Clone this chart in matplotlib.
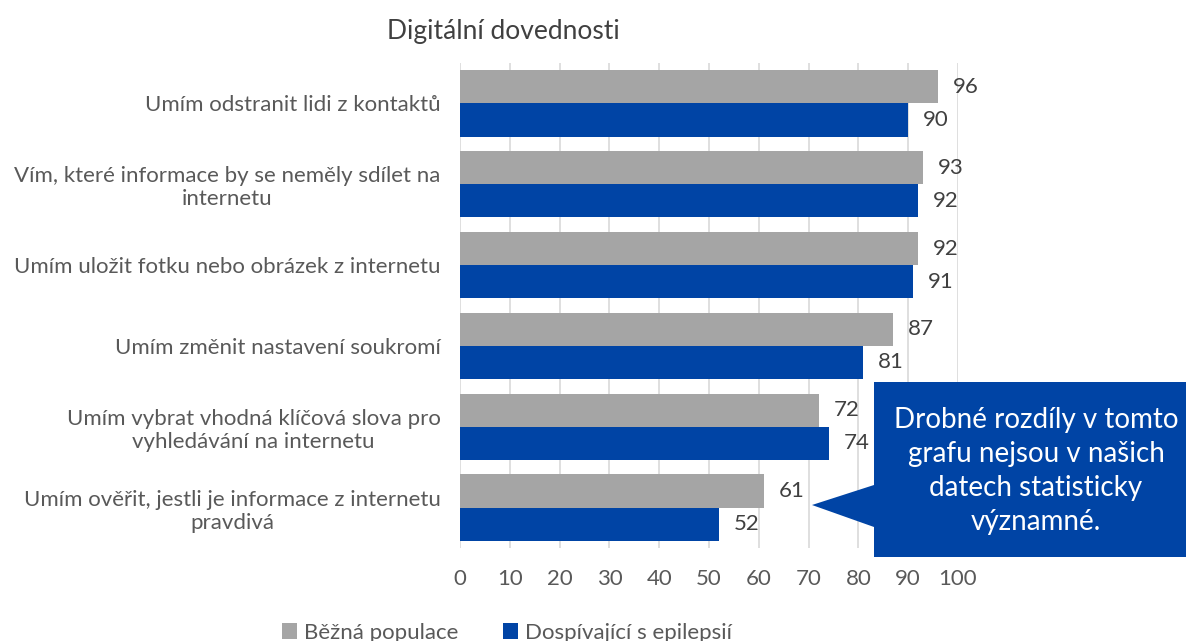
import matplotlib.pyplot as plt
from matplotlib.patches import Polygon
import numpy as np

plt.rcParams['font.family'] = ['Lato', 'DejaVu Sans']

title = 'Digitální dovednosti'
categories = [
    'Umím odstranit lidi z kontaktů',
    'Vím, které informace by se neměly sdílet na\ninternetu',
    'Umím uložit fotku nebo obrázek z internetu',
    'Umím změnit nastavení soukromí',
    'Umím vybrat vhodná klíčová slova pro\nvyhledávání na internetu',
    'Umím ověřit, jestli je informace z internetu\npravdivá',
]
bezna = [96, 93, 92, 87, 72, 61]
epilepsie = [90, 92, 91, 81, 74, 52]
series_names = ['Běžná populace', 'Dospívající s epilepsií']
note = 'Drobné rozdíly v tomto\ngrafu nejsou v našich\ndatech statisticky\nvýznamné.'

gray = '#a5a5a5'
blue = '#0044a5'

W, H = 1186, 641
fig = plt.figure(figsize=(W / 100, H / 100), dpi=100)
ax = fig.add_axes([460 / W, 1 - 548 / H, 498 / W, 485 / H])

y = np.arange(len(categories))
h = 0.41
b1 = ax.barh(y - h / 2, bezna, height=h, color=gray, label=series_names[0], zorder=3)
b2 = ax.barh(y + h / 2, epilepsie, height=h, color=blue, label=series_names[1], zorder=3)

for bars, vals in ((b1, bezna), (b2, epilepsie)):
    for bar, v in zip(bars, vals):
        ax.text(v + 3, bar.get_y() + bar.get_height() / 2, str(v),
                va='center', ha='left', fontsize=16, color='#404040', zorder=4)

ax.set_xlim(0, 100)
ax.set_ylim(len(categories) - 0.5, -0.5)
ax.set_xticks(range(0, 101, 10))
ax.set_yticks(y)
ax.set_yticklabels(categories, multialignment='center')
ax.tick_params(axis='y', length=0, pad=14, labelsize=16, labelcolor='#595959')
ax.tick_params(axis='x', length=0, pad=15, labelsize=16, labelcolor='#595959')
ax.grid(axis='x', color='#d9d9d9', linewidth=1.2, zorder=0)
for s in ax.spines.values():
    s.set_visible(False)

fig.text(503 / W, 1 - 32 / H, title, ha='center', va='center',
         fontsize=19, color='#404040')

# callout box
pts = [(874, 382), (1186, 382), (1186, 557), (874, 557), (874, 527),
       (812, 505), (874, 485)]
poly = Polygon([(px / W, 1 - py / H) for px, py in pts], closed=True,
               transform=fig.transFigure, facecolor=blue, edgecolor='none', zorder=5)
fig.patches.append(poly)
fig.text(1036 / W, 1 - 471 / H, note, ha='center', va='center',
         fontsize=20, color='white', linespacing=1.37, zorder=6)

fig.legend(handles=[b1, b2], labels=series_names, loc='center',
           bbox_to_anchor=(507 / W, 1 - 633 / H), ncol=2, frameon=False,
           fontsize=16, labelcolor='#595959', handlelength=0.7, handleheight=0.7,
           handletextpad=0.3, columnspacing=2.0)

fig.savefig('out.png', dpi=100)
